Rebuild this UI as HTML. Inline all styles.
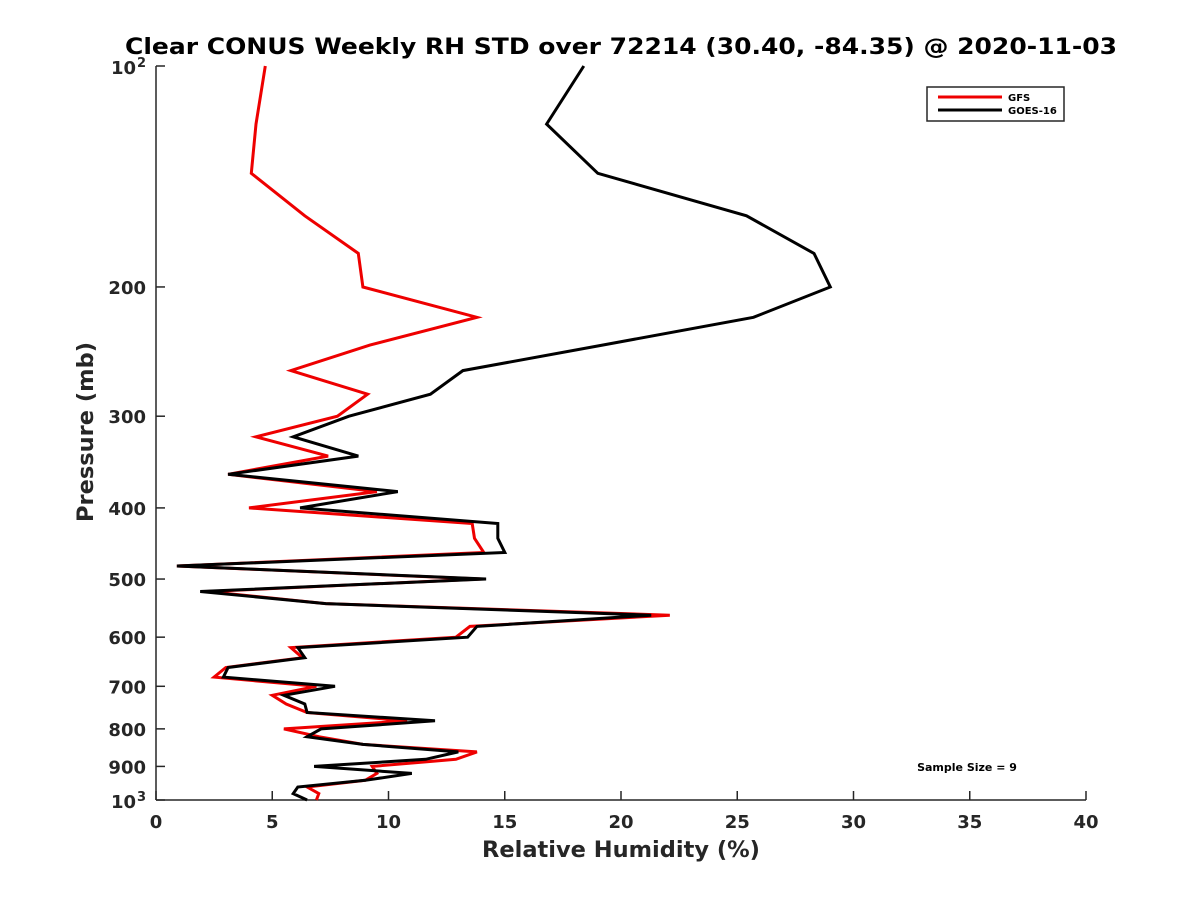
<!DOCTYPE html>
<html><head><meta charset="utf-8"><style>
html,body{margin:0;padding:0;background:#fff;}
svg{display:block;font-family:"DejaVu Sans","Liberation Sans",sans-serif;}
</style></head><body>
<svg id="chart" width="1200" height="900">
<text x="621" y="54" text-anchor="middle" font-size="22" font-weight="bold" fill="#000" textLength="992" lengthAdjust="spacingAndGlyphs">Clear CONUS Weekly RH STD over 72214 (30.40, -84.35) @ 2020-11-03</text>
<text x="621" y="857" text-anchor="middle" font-size="22.5" font-weight="bold" fill="#262626">Relative Humidity (%)</text>
<text transform="translate(93,432) rotate(-90)" text-anchor="middle" font-size="22.5" font-weight="bold" fill="#262626">Pressure (mb)</text>
<g id="axes"></g>
<g id="series"></g>
<g>
<rect x="927" y="87" width="137" height="34" fill="#fff" stroke="#262626" stroke-width="1.5"/>
<line x1="938" y1="97" x2="1002" y2="97" stroke="#e00" stroke-width="3"/>
<text x="1008" y="101" font-size="10" font-weight="bold">GFS</text>
<line x1="938" y1="110" x2="1002" y2="110" stroke="#000" stroke-width="3"/>
<text x="1008" y="114" font-size="10" font-weight="bold">GOES-16</text>
</g>
<text x="967" y="771" text-anchor="middle" font-size="11" font-weight="bold">Sample Size = 9</text>
</svg>
<script>
const pressures = [100,120,140,160,180,200,220,240,260,280,300,320,340,360,380,400,420,440,460,480,500,520,540,560,580,600,620,640,660,680,700,720,740,760,780,800,820,840,860,880,900,920,940,960,980,1000];
const goesValues = [18.4,16.8,19.0,25.4,28.3,29.0,25.7,19.2,13.2,11.8,8.3,5.9,8.7,3.1,10.4,6.2,14.7,14.7,15.0,0.9,14.2,1.9,7.3,21.3,13.8,13.4,6.1,6.4,3.1,2.9,7.7,5.5,6.4,6.5,12.0,7.1,6.5,8.9,13.0,11.6,6.8,11.0,9.0,6.1,5.9,6.5];
const gfsValues = [4.7,4.3,4.1,6.4,8.7,8.9,13.8,9.2,5.8,9.1,7.8,4.3,7.4,3.1,9.5,4.0,13.6,13.7,14.1,0.9,14.0,2.2,7.3,22.1,13.5,12.9,5.8,6.3,3.0,2.5,6.9,5.0,5.6,6.5,10.8,5.5,7.0,8.9,13.8,12.9,9.3,9.5,9.0,6.5,7.0,6.9];
const xTicks = [0,5,10,15,20,25,30,35,40];
const yTicks = [100,200,300,400,500,600,700,800,900,1000];
const yTickLabels = ["10^2","200","300","400","500","600","700","800","900","10^3"];

const L=156,R=1086,T=66,B=800;
const xs=v=>L+(v-0)/(40-0)*(R-L);
const ys=p=>T+(Math.log10(p)-2)*(B-T);
const NS="http://www.w3.org/2000/svg";
const axes=document.getElementById('axes'), series=document.getElementById('series');
function mk(tag,attrs,parent){const e=document.createElementNS(NS,tag);for(const k in attrs)e.setAttribute(k,attrs[k]);parent.appendChild(e);return e;}

let a=mk('line',{x1:L,y1:T,x2:L,y2:B,stroke:'#262626','stroke-width':1.5},axes);


a=mk('line',{x1:L,y1:B,x2:R,y2:B,stroke:'#262626','stroke-width':1.5},axes);



xTicks.forEach(t=>{
  const x=xs(t);
  const tk=mk('line',{x1:x,y1:B,x2:x,y2:B-9,stroke:'#262626','stroke-width':1.5},axes);
  
  
  const tx=mk('text',{x:x,y:B+28,'text-anchor':'middle','font-size':18,'font-weight':'bold',fill:'#262626'},axes);
  tx.textContent=t;
  
  
});
yTicks.forEach((t,i)=>{
  const y=ys(t);
  const tk=mk('line',{x1:L,y1:y,x2:L+9,y2:y,stroke:'#262626','stroke-width':1.5},axes);
  
  
  const lab=yTickLabels[i];
  if(lab.indexOf('^')>=0){
    const parts=lab.split('^');
    const tx=mk('text',{x:L-20,y:y+8,'text-anchor':'end','font-size':18,'font-weight':'bold',fill:'#262626'},axes);
    tx.textContent=parts[0];
    
    
    const sp=mk('text',{x:L-10,y:y+1,'text-anchor':'end','font-size':13,'font-weight':'bold',fill:'#262626'},axes);
    sp.textContent=parts[1];
    
    
  } else {
    const tx=mk('text',{x:L-10,y:y+7,'text-anchor':'end','font-size':18,'font-weight':'bold',fill:'#262626'},axes);
    tx.textContent=lab;
    
    
  }
});

function line(vals,color,name){
  const pts=vals.map((v,i)=>xs(v).toFixed(1)+','+ys(pressures[i]).toFixed(1)).join(' ');
  const pl=mk('polyline',{points:pts,fill:'none',stroke:color,'stroke-width':3,'stroke-linejoin':'miter'},series);
  
  
}
line(gfsValues,'#e00','gfs-line');
line(goesValues,'#000','goes16-line');
</script>
</body></html>
